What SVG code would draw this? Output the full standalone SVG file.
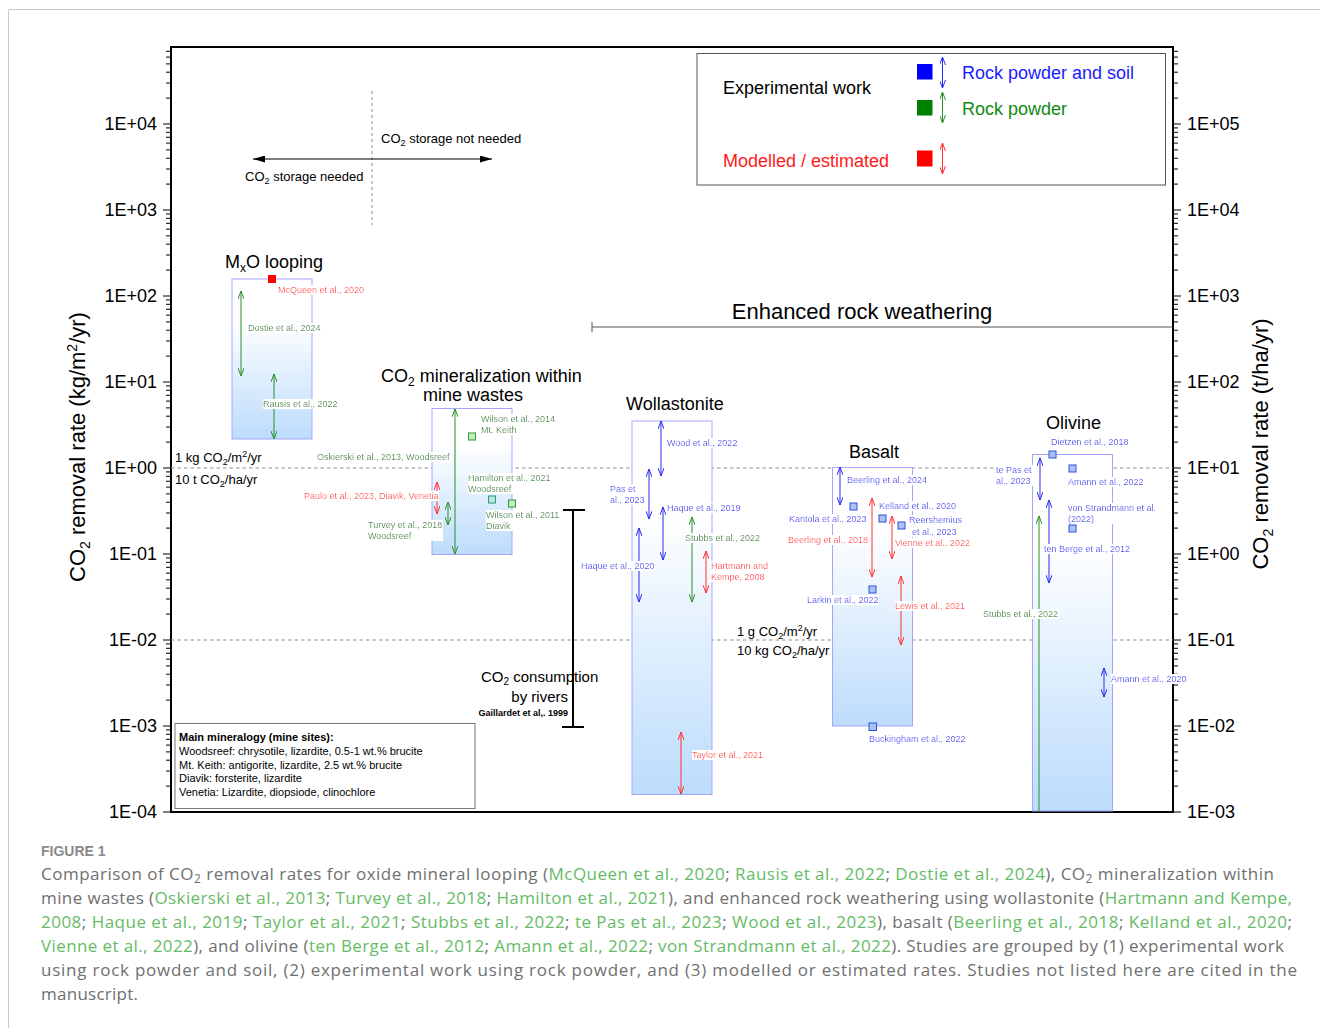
<svg xmlns="http://www.w3.org/2000/svg" width="1320" height="1028" viewBox="0 0 1320 1028">
<style>
text{font-family:"Liberation Sans",Arial,sans-serif}
.s{font-size:9px}
.t{font-size:18px;fill:#000}
.ax{font-size:18px;fill:#000}
.B{fill:#2020f0}.G{fill:#1a8a1a}.R{fill:#ff1a1a}
.lb{filter:url(#wb)}
.box{fill:url(#gr);stroke:#a5a5ff;stroke-width:1}
.ab{stroke:#2b2bf0;stroke-width:1;marker-start:url(#mb);marker-end:url(#mb)}
.ag{stroke:#2a8f2a;stroke-width:1;marker-start:url(#mg);marker-end:url(#mg)}
.ar{stroke:#ff3030;stroke-width:1;marker-start:url(#mr);marker-end:url(#mr)}
.sqb{fill:#a9c2f2;stroke:#3050e0;stroke-width:1}
.sqg{fill:#c4ecc4;stroke:#2a9a2a;stroke-width:1}
.sqt{fill:#bfe6da;stroke:#2a9a8a;stroke-width:1}
.dash{stroke:#8f8f8f;stroke-width:1.2;stroke-dasharray:3.5 3;fill:none}
.cap{font-family:"Open Sans",Lato,sans-serif;font-size:17px;fill:#707070}
.cg{fill:#66bb66}
</style>
<defs>
<linearGradient id="gr" x1="0" y1="0" x2="0" y2="1">
<stop offset="0" stop-color="#ffffff"/><stop offset="0.25" stop-color="#ffffff"/><stop offset="1" stop-color="#bcdcfc"/>
</linearGradient>
<filter id="wb" x="0" y="0" width="1" height="1"><feFlood flood-color="#ffffff"/><feComposite in="SourceGraphic"/></filter>
<marker id="mb" viewBox="0 0 8 6" refX="8" refY="3" markerWidth="8" markerHeight="6" markerUnits="userSpaceOnUse" orient="auto-start-reverse"><path d="M0,0 L8,3 L0,6" fill="none" stroke="#2b2bf0" stroke-width="1"/></marker>
<marker id="mg" viewBox="0 0 8 6" refX="8" refY="3" markerWidth="8" markerHeight="6" markerUnits="userSpaceOnUse" orient="auto-start-reverse"><path d="M0,0 L8,3 L0,6" fill="none" stroke="#2a8f2a" stroke-width="1"/></marker>
<marker id="mr" viewBox="0 0 8 6" refX="8" refY="3" markerWidth="8" markerHeight="6" markerUnits="userSpaceOnUse" orient="auto-start-reverse"><path d="M0,0 L8,3 L0,6" fill="none" stroke="#ff3030" stroke-width="1"/></marker>
<marker id="mk" viewBox="0 0 12 7" refX="12" refY="3.5" markerWidth="12" markerHeight="7" markerUnits="userSpaceOnUse" orient="auto-start-reverse"><path d="M0,0 L12,3.5 L0,7 z" fill="#000"/></marker>
<path id="ticks" fill="none" stroke="#000" stroke-width="1" d="M171 812h-8M171 726h-8M171 640h-8M171 554h-8M171 468h-8M171 382h-8M171 296h-8M171 210h-8M171 124h-8
M171 786.1h-5M171 771h-5M171 760.2h-5M171 751.9h-5M171 745.1h-5M171 739.3h-5M171 734.3h-5M171 729.9h-5
M171 700.1h-5M171 685h-5M171 674.2h-5M171 665.9h-5M171 659.1h-5M171 653.3h-5M171 648.3h-5M171 643.9h-5
M171 614.1h-5M171 599h-5M171 588.2h-5M171 579.9h-5M171 573.1h-5M171 567.3h-5M171 562.3h-5M171 557.9h-5
M171 528.1h-5M171 513h-5M171 502.2h-5M171 493.9h-5M171 487.1h-5M171 481.3h-5M171 476.3h-5M171 471.9h-5
M171 442.1h-5M171 427h-5M171 416.2h-5M171 407.9h-5M171 401.1h-5M171 395.3h-5M171 390.3h-5M171 385.9h-5
M171 356.1h-5M171 341h-5M171 330.2h-5M171 321.9h-5M171 315.1h-5M171 309.3h-5M171 304.3h-5M171 299.9h-5
M171 270.1h-5M171 255h-5M171 244.2h-5M171 235.9h-5M171 229.1h-5M171 223.3h-5M171 218.3h-5M171 213.9h-5
M171 184.1h-5M171 169h-5M171 158.2h-5M171 149.9h-5M171 143.1h-5M171 137.3h-5M171 132.3h-5M171 127.9h-5
M171 98.1h-5M171 83h-5M171 72.2h-5M171 63.9h-5M171 57.1h-5M171 51.3h-5"/>
</defs>
<rect width="1320" height="1028" fill="#fff"/>
<path d="M8.5 1028V9.5H1320" fill="none" stroke="#c8c8c8" stroke-width="1"/>

<g id="axes">
<use href="#ticks"/>
<use href="#ticks" transform="matrix(-1 0 0 1 1344 0)"/>
<rect x="171" y="47" width="1002" height="765" fill="none" stroke="#000" stroke-width="2"/>
<g class="ax" text-anchor="end">
<text x="157" y="130">1E+04</text><text x="157" y="216">1E+03</text><text x="157" y="302">1E+02</text><text x="157" y="388">1E+01</text><text x="157" y="474">1E+00</text><text x="157" y="560">1E-01</text><text x="157" y="646">1E-02</text><text x="157" y="732">1E-03</text><text x="157" y="818">1E-04</text>
</g>
<g class="ax">
<text x="1187" y="130">1E+05</text><text x="1187" y="216">1E+04</text><text x="1187" y="302">1E+03</text><text x="1187" y="388">1E+02</text><text x="1187" y="474">1E+01</text><text x="1187" y="560">1E+00</text><text x="1187" y="646">1E-01</text><text x="1187" y="732">1E-02</text><text x="1187" y="818">1E-03</text>
</g>
<text transform="translate(85,447) rotate(-90)" text-anchor="middle" font-size="22">CO<tspan dy="5" font-size="14">2</tspan><tspan dy="-5"> removal rate (kg/m</tspan><tspan dy="-8" font-size="14">2</tspan><tspan dy="8">/yr)</tspan></text>
<text transform="translate(1268,444) rotate(-90)" text-anchor="middle" font-size="22">CO<tspan dy="5" font-size="14">2</tspan><tspan dy="-5"> removal rate (t/ha/yr)</tspan></text>
<path class="dash" d="M171 468H1173M171 640H1173"/>
<path d="M372 91V225" fill="none" stroke="#8f8f8f" stroke-width="1" stroke-dasharray="3 3"/>
<line x1="253" y1="159" x2="492" y2="159" stroke="#000" stroke-width="1.2" marker-start="url(#mk)" marker-end="url(#mk)"/>
<text x="381" y="143" font-size="13">CO<tspan dy="3" font-size="9">2</tspan><tspan dy="-3"> storage not needed</tspan></text>
<text x="245" y="181" font-size="13">CO<tspan dy="3" font-size="9">2</tspan><tspan dy="-3"> storage needed</tspan></text>
<text x="175" y="462" font-size="13">1 kg CO<tspan dy="3" font-size="9">2</tspan><tspan dy="-3">/m</tspan><tspan dy="-5" font-size="9">2</tspan><tspan dy="5">/yr</tspan></text>
<text x="175" y="484" font-size="13">10 t CO<tspan dy="3" font-size="9">2</tspan><tspan dy="-3">/ha/yr</tspan></text>
<text x="737" y="636" font-size="13">1 g CO<tspan dy="3" font-size="9">2</tspan><tspan dy="-3">/m</tspan><tspan dy="-5" font-size="9">2</tspan><tspan dy="5">/yr</tspan></text>
<text x="737" y="655" font-size="13">10 kg CO<tspan dy="3" font-size="9">2</tspan><tspan dy="-3">/ha/yr</tspan></text>
<path d="M592 327H1173M592 322V332" fill="none" stroke="#555" stroke-width="1"/>
<text x="862" y="319" text-anchor="middle" font-size="22">Enhanced rock weathering</text>
</g>

<g id="boxes">
<rect class="box" x="232" y="279" width="80" height="160"/>
<rect class="box" x="432" y="408.5" width="80" height="146"/>
<rect class="box" x="632" y="421" width="80" height="373.5"/>
<rect class="box" x="832.5" y="467.5" width="80" height="258.5"/>
<rect class="box" x="1032.5" y="454.5" width="80" height="356.5"/>
</g>

<g id="rivers">
<path d="M573 510V727M563 510H585M562 727H584" fill="none" stroke="#000" stroke-width="2"/>
<text x="481" y="682" font-size="15">CO<tspan dy="3" font-size="10">2</tspan><tspan dy="-3"> consumption</tspan></text>
<text x="568" y="702" font-size="15" text-anchor="end">by rivers</text>
<text x="568" y="716" font-size="9" font-weight="bold" text-anchor="end">Gaillardet et al,. 1999</text>
</g>

<g id="connectors">
<line class="ag" x1="241" y1="291" x2="241" y2="376"/>
<line class="ag" x1="274" y1="374" x2="274" y2="439"/>
<line class="ag" x1="455" y1="409" x2="455" y2="554"/>
<line class="ar" x1="437" y1="482" x2="437" y2="514"/>
<line class="ag" x1="448" y1="502" x2="448" y2="525"/>
<line class="ab" x1="661" y1="421" x2="661" y2="476"/>
<line class="ab" x1="649" y1="469" x2="649" y2="519"/>
<line class="ab" x1="663" y1="507" x2="663" y2="560"/>
<line class="ab" x1="639" y1="528" x2="639" y2="602"/>
<line class="ag" x1="692" y1="517" x2="692" y2="602"/>
<line class="ar" x1="706" y1="551" x2="706" y2="593"/>
<line class="ar" x1="681" y1="732" x2="681" y2="794"/>
<line class="ab" x1="840" y1="467" x2="840" y2="505"/>
<line class="ar" x1="872" y1="498" x2="872" y2="577"/>
<line class="ar" x1="892" y1="516" x2="892" y2="559"/>
<line class="ar" x1="901" y1="576" x2="901" y2="645"/>
<line class="ab" x1="1040" y1="458" x2="1040" y2="500"/>
<line class="ab" x1="1049" y1="500" x2="1049" y2="583"/>
<line x1="1039" y1="811" x2="1039" y2="516" stroke="#2a8f2a" stroke-width="1" marker-end="url(#mg)"/>
<line class="ab" x1="1104" y1="668" x2="1104" y2="697"/>
</g>

<g id="mxo-looping">
<text class="t" x="225" y="268">M<tspan dy="4" font-size="12">x</tspan><tspan dy="-4">O looping</tspan></text>
<rect x="268" y="275" width="8" height="8" fill="#ff0000"/>
<text class="s R lb" x="278" y="293">McQueen et al., 2020</text>
<text class="s G lb" x="248" y="331">Dostie et al., 2024</text>
<text class="s G lb" x="263" y="407">Rausis et al., 2022</text>
</g>

<g id="mine-wastes">
<text class="t" x="381" y="382">CO<tspan dy="4" font-size="12">2</tspan><tspan dy="-4"> mineralization within</tspan></text>
<text class="t" x="423" y="401">mine wastes</text>
<rect class="sqg" x="468.5" y="433" width="7" height="7"/>
<rect class="sqt" x="488.5" y="496" width="7" height="7"/>
<rect class="sqg" x="508.5" y="500" width="7" height="7"/>
<text class="s G lb"><tspan x="481" y="422">Wilson et al., 2014</tspan><tspan x="481" y="433">Mt. Keith</tspan></text>
<text class="s G lb" x="317" y="460">Oskierski et al., 2013, Woodsreef</text>
<text class="s G lb"><tspan x="468" y="481">Hamilton et al., 2021</tspan><tspan x="468" y="492">Woodsreef</tspan></text>
<text class="s R lb" x="304" y="499">Paulo et al., 2023, Diavik, Venetia</text>
<text class="s G lb"><tspan x="486" y="518">Wilson et al., 2011</tspan><tspan x="486" y="529">Diavik</tspan></text>
<text class="s G lb"><tspan x="368" y="528">Turvey et al., 2018</tspan><tspan x="368" y="539">Woodsreef</tspan></text>
</g>

<g id="wollastonite">
<text class="t" x="626" y="410">Wollastonite</text>
<text class="s B lb" x="667" y="446">Wood et al., 2022</text>
<text class="s B lb"><tspan x="610" y="492">Pas et</tspan><tspan x="610" y="503">al., 2023</tspan></text>
<text class="s B lb" x="667" y="511">Haque et al., 2019</text>
<text class="s G lb" x="685" y="541">Stubbs et al., 2022</text>
<text class="s B lb" x="581" y="569">Haque et al., 2020</text>
<text class="s R lb"><tspan x="711" y="569">Hartmann and</tspan><tspan x="711" y="580">Kempe, 2008</tspan></text>
<text class="s R lb" x="692" y="758">Taylor et al., 2021</text>
</g>

<g id="basalt">
<text class="t" x="849" y="458">Basalt</text>
<rect class="sqb" x="850" y="503" width="7" height="7"/>
<rect class="sqb" x="879" y="515" width="7" height="7"/>
<rect class="sqb" x="898" y="522" width="7" height="7"/>
<rect class="sqb" x="869" y="586" width="7" height="7"/>
<rect class="sqb" x="869" y="723" width="7.5" height="7.5"/>
<text class="s B lb" x="847" y="483">Beerling et al., 2024</text>
<text class="s B lb" x="879" y="509">Kelland et al., 2020</text>
<text class="s B lb" x="789" y="522">Kantola et al., 2023</text>
<text class="s B lb"><tspan x="909" y="523">Reershemius</tspan><tspan x="912" y="535">et al., 2023</tspan></text>
<text class="s R lb" x="788" y="543">Beerling et al., 2018</text>
<text class="s R lb" x="895" y="546">Vienne et al., 2022</text>
<text class="s B lb" x="807" y="603">Larkin et al., 2022</text>
<text class="s R lb" x="895" y="609">Lewis et al., 2021</text>
<text class="s B lb" x="869" y="742">Buckingham et al., 2022</text>
</g>

<g id="olivine">
<text class="t" x="1046" y="429">Olivine</text>
<rect class="sqb" x="1049" y="451" width="7" height="7"/>
<rect class="sqb" x="1069" y="465" width="7" height="7"/>
<rect class="sqb" x="1069" y="525" width="7" height="7"/>
<text class="s B lb" x="1051" y="445">Dietzen et al., 2018</text>
<text class="s B lb"><tspan x="996" y="473">te Pas et</tspan><tspan x="996" y="484">al., 2023</tspan></text>
<text class="s B lb" x="1068" y="485">Amann et al., 2022</text>
<text class="s B lb"><tspan x="1068" y="511">von Strandmann et al.</tspan><tspan x="1068" y="522">(2022)</tspan></text>
<text class="s B lb" x="1044" y="552">ten Berge et al., 2012</text>
<text class="s G lb" x="983" y="617">Stubbs et al., 2022</text>
<text class="s B lb" x="1111" y="682">Amann et al., 2020</text>
</g>

<g id="legend">
<rect x="697" y="53.5" width="468.5" height="131.5" fill="#fff" stroke="#555" stroke-width="1"/>
<text x="723" y="94" font-size="18">Experimental work</text>
<text x="723" y="167" font-size="18" fill="#ff1a1a">Modelled / estimated</text>
<rect x="917" y="64" width="15.5" height="15.5" fill="#0000ff"/>
<rect x="917" y="100" width="15.5" height="15.5" fill="#008000"/>
<rect x="917" y="150.5" width="15.5" height="16" fill="#ff0000"/>
<line class="ab" x1="942.5" y1="57" x2="942.5" y2="88"/>
<line class="ag" x1="942.5" y1="92" x2="942.5" y2="123"/>
<line class="ar" x1="942.5" y1="143" x2="942.5" y2="174"/>
<text x="962" y="79" font-size="18" fill="#1a1aff">Rock powder and soil</text>
<text x="962" y="115" font-size="18" fill="#138a13">Rock powder</text>
</g>

<g id="mineralogy-box">
<rect x="175" y="723.5" width="300" height="85" fill="#fff" stroke="#777" stroke-width="1"/>
<text x="179" y="741" font-size="11" font-weight="bold">Main mineralogy (mine sites):</text>
<text x="179" y="755" font-size="11">Woodsreef: chrysotile, lizardite, 0.5-1 wt.% brucite</text>
<text x="179" y="768.5" font-size="11">Mt. Keith: antigorite, lizardite, 2.5 wt.% brucite</text>
<text x="179" y="782" font-size="11">Diavik: forsterite, lizardite</text>
<text x="179" y="795.5" font-size="11">Venetia: Lizardite, diopsiode, clinochlore</text>
</g>

<g id="caption">
<text x="41" y="856" font-family="'Open Sans',Lato,sans-serif" font-size="14" font-weight="600" fill="#8a8a8a">FIGURE 1</text>
<text class="cap" x="41" y="880" textLength="1233" lengthAdjust="spacing">Comparison of CO<tspan dy="3" font-size="12">2</tspan><tspan dy="-3"> removal rates for oxide mineral looping (</tspan><tspan class="cg">McQueen et al., 2020</tspan>; <tspan class="cg">Rausis et al., 2022</tspan>; <tspan class="cg">Dostie et al., 2024</tspan>), CO<tspan dy="3" font-size="12">2</tspan><tspan dy="-3"> mineralization within</tspan></text>
<text class="cap" x="41" y="904" textLength="1251" lengthAdjust="spacing">mine wastes (<tspan class="cg">Oskierski et al., 2013</tspan>; <tspan class="cg">Turvey et al., 2018</tspan>; <tspan class="cg">Hamilton et al., 2021</tspan>), and enhanced rock weathering using wollastonite (<tspan class="cg">Hartmann and Kempe,</tspan></text>
<text class="cap" x="41" y="928" textLength="1251" lengthAdjust="spacing"><tspan class="cg">2008</tspan>; <tspan class="cg">Haque et al., 2019</tspan>; <tspan class="cg">Taylor et al., 2021</tspan>; <tspan class="cg">Stubbs et al., 2022</tspan>; <tspan class="cg">te Pas et al., 2023</tspan>; <tspan class="cg">Wood et al., 2023</tspan>), basalt (<tspan class="cg">Beerling et al., 2018</tspan>; <tspan class="cg">Kelland et al., 2020</tspan>;</text>
<text class="cap" x="41" y="952" textLength="1243" lengthAdjust="spacing"><tspan class="cg">Vienne et al., 2022</tspan>), and olivine (<tspan class="cg">ten Berge et al., 2012</tspan>; <tspan class="cg">Amann et al., 2022</tspan>; <tspan class="cg">von Strandmann et al., 2022</tspan>). Studies are grouped by (1) experimental work</text>
<text class="cap" x="41" y="976" textLength="1256" lengthAdjust="spacing">using rock powder and soil, (2) experimental work using rock powder, and (3) modelled or estimated rates. Studies not listed here are cited in the</text>
<text class="cap" x="41" y="1000" textLength="97" lengthAdjust="spacing">manuscript.</text>
</g>
</svg>
